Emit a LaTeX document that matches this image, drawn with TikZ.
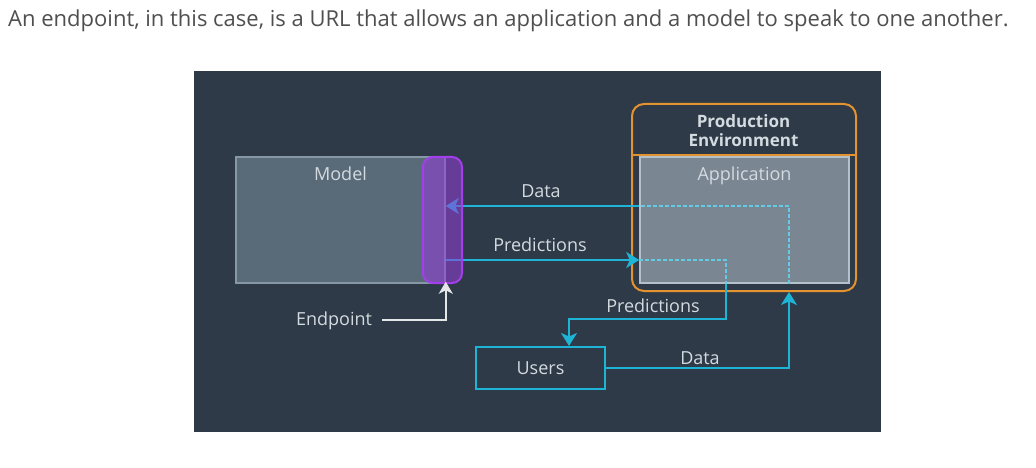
\documentclass[tikz,border=0pt]{standalone}
\usepackage{fontspec}
\setmainfont{Open Sans}
\usetikzlibrary{positioning,calc,arrows.meta}

\definecolor{panel}{HTML}{2E3A47}
\definecolor{modelfill}{HTML}{596A79}
\definecolor{modeledge}{HTML}{8797A5}
\definecolor{appfill}{HTML}{7A8692}
\definecolor{appedge}{HTML}{B4C0CA}
\definecolor{envedge}{HTML}{E3932F}
\definecolor{flow}{HTML}{1DB4D5}
\definecolor{flowdot}{HTML}{62CBE3}
\definecolor{epfill}{HTML}{963CDC}
\definecolor{epedge}{HTML}{A23FEA}
\definecolor{txt}{HTML}{D3DAE0}
\definecolor{captxt}{HTML}{4F4F4F}
\definecolor{pointer}{HTML}{E4E6E8}

\tikzset{
    lbl/.style={text=txt, font=\fontsize{18}{18.4}\selectfont, inner sep=0pt},
    box/.style={rectangle, minimum width=209pt, minimum height=126pt, line width=1.5pt},
    flowline/.style={draw=flow, line width=2pt},
    flowarrow/.style={flowline, -{Stealth[length=13pt,width=16pt,inset=3.5pt]}},
    dotline/.style={draw=flowdot, line width=2.2pt, dash pattern=on 3.5pt off 2.5pt},
}

\begin{document}
\begin{tikzpicture}[x=1pt, y=-1pt]
    \useasboundingbox (0,0) rectangle (1036,468);
    \fill[white] (0,0) rectangle (1036,468);
    \fill[panel] (194,71) rectangle (881,432);

    % Caption
    \node[anchor=base west, inner sep=0pt, text=captxt, font=\fontsize{22}{26}\selectfont] (caption) at (8,27)
        {An endpoint, in this case, is a URL that allows an application and a model to speak to one another.};

    % Model
    \node[box, fill=modelfill, draw=modeledge] (model) at (340.5,220) {};
    \node[lbl, anchor=base] (modeltitle) at ([yshift=-24pt]model.north) {Model};

    % Production environment
    \node[rectangle, rounded corners=12pt, draw=envedge, line width=2pt,
          minimum width=224pt, minimum height=187pt] (env) at (744,197.5) {};
    \coordinate (envsplit) at (744,155);
    \draw[envedge, line width=2pt] (env.west |- envsplit) -- (env.east |- envsplit);
    \node[lbl, font=\fontsize{17}{18.4}\selectfont\bfseries, align=center] (envtitle) at (743.5,130.5)
        {Production\\Environment};
    \node[box, fill=appfill, draw=appedge] (app) at (744.5,220) {};
    \node[lbl, anchor=base] (apptitle) at ([yshift=-24pt]app.north) {Application};

    % Users
    \node[lbl, rectangle, draw=flow, line width=2pt, minimum width=129pt, minimum height=42pt]
        (users) at (540.5,368) {Users};

    % Bends
    \coordinate (dataturn) at (789,206);
    \coordinate (predturn) at (726,260);
    \coordinate (predbend) at (726,319);
    \coordinate (predusr) at (569,319);

    % Data
    \draw[flowarrow] (users.east) -| (dataturn |- env.south);
    \draw[dotline] (dataturn |- app.south) -- (dataturn) -- (app.west |- dataturn);
    \draw[flowarrow] (app.west |- dataturn) -- (model.east |- dataturn);
    \node[lbl, anchor=base] (datatop) at (541,197) {Data};
    \node[lbl, anchor=base] (datalow) at (700,364) {Data};

    % Predictions
    \draw[flowarrow] (model.east |- predturn) -- (app.west |- predturn);
    \draw[dotline] (app.west |- predturn) -- (predturn) -- (predturn |- app.south);
    \draw[flowarrow] (predturn |- app.south) -- (predbend) -- (predusr) -- (predusr |- users.north);
    \node[lbl, anchor=base] (predtop) at (540,251) {Predictions};
    \node[lbl, anchor=base] (predlow) at (653,312) {Predictions};

    % Endpoint
    \node[rectangle, rounded corners=10pt, fill=epfill, fill opacity=0.55, draw=epedge, line width=2pt,
          minimum width=39pt, minimum height=126pt] (ep) at (442.5,220) {};
    \node[lbl, anchor=base] (eplbl) at (334,325) {Endpoint};
    \draw[pointer, line width=2pt, -{Stealth[length=12pt,width=14pt,inset=3.5pt]}, shorten >=-2pt]
        ([xshift=10pt]eplbl.east) -| (model.south east);
\end{tikzpicture}
\end{document}
